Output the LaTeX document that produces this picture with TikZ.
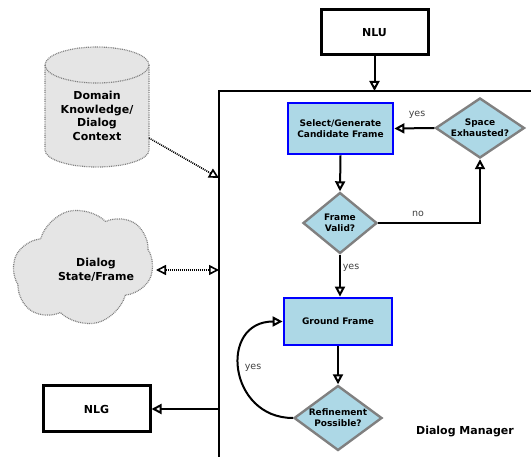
\documentclass[tikz,border=0pt]{standalone}
\usepackage{fontspec}
\setmainfont{DejaVu Sans}
\usetikzlibrary{shapes.geometric,shapes.symbols,arrows.meta}

\definecolor{procfill}{HTML}{ADD8E6}
\definecolor{storefill}{HTML}{E5E5E5}
\definecolor{storeline}{HTML}{808080}
\definecolor{labelgray}{HTML}{404040}

\tikzset{
  iobox/.style={draw, line width=3pt, fill=white, inner sep=0pt,
    font=\fontsize{11}{13}\selectfont\bfseries},
  procbox/.style={draw=blue, line width=2.8pt, fill=procfill, inner sep=0pt, align=center,
    font=\fontsize{9}{11}\selectfont\bfseries},
  decision/.style={diamond, draw=storeline, line width=2.4pt, fill=procfill, inner sep=0pt},
  dtext/.style={align=center, inner sep=0pt, font=\fontsize{9}{11}\selectfont\bfseries},
  storetext/.style={align=center, inner sep=0pt, font=\fontsize{11}{13.7}\selectfont\bfseries},
  storeborder/.style={draw=storeline, line width=1.2pt, dash pattern=on 0.9pt off 0.9pt},
  flow/.style={line width=2pt, -{Triangle[open,length=10pt,width=10pt]}},
  dotflow/.style={line width=1.6pt, dash pattern=on 1pt off 1pt, -{Triangle[open,length=10pt,width=10pt]}},
  dotboth/.style={line width=1.6pt, dash pattern=on 1pt off 1pt,
    {Triangle[open,length=10pt,width=10pt]}-{Triangle[open,length=10pt,width=10pt]}},
  lbl/.style={inner sep=0pt, text=labelgray, font=\fontsize{9.5}{11}\selectfont},
}

\begin{document}
\begin{tikzpicture}[x=1pt,y=-1pt]
\useasboundingbox (0,0) rectangle (531,457);

% Dialog Manager frame (open towards the right and bottom)
\coordinate (dmtl) at (219,91);
\draw[line width=2pt] (dmtl |- 0,458) -- (dmtl) -- (532,91);
\node[inner sep=0pt, font=\fontsize{11}{13}\selectfont\bfseries] (dmlabel) at (465,432) {Dialog Manager};

% NLU / NLG
\node[iobox, minimum width=107pt, minimum height=45pt] (nlu) at (374.5,32.5) {NLU};
\node[iobox, minimum width=107pt, minimum height=46pt] (nlg) at (96.5,409) {NLG};
\draw[flow] (nlu.south) -- (nlu.south |- dmtl);
\coordinate (nlgsrc) at (219,409);
\draw[flow] (nlgsrc) -- (nlg.east);

% Knowledge store (cylinder)
\path[fill=storefill] (45,65) -- (45,150) arc[start angle=180, end angle=0, x radius=52, y radius=17]
  -- (149,65) arc[start angle=0, end angle=-180, x radius=52, y radius=18] -- cycle;
\draw[storeborder] (45,65) -- (45,150) arc[start angle=180, end angle=0, x radius=52, y radius=17]
  -- (149,65);
\draw[storeborder] (97,65) ellipse[x radius=52, y radius=18];
\node[storetext] (dk) at (97,116) {Domain\\Knowledge/\\Dialog\\Context};
\coordinate (dkout) at (149,138);
\coordinate (dkin) at (219,178);
\draw[dotflow] (dkout) -- (dkin);

% Dialog state (cloud)
\node[cloud, cloud puffs=6, cloud puff arc=120, aspect=1.25, minimum width=142pt, minimum height=115pt,
  fill=storefill, storeborder, rotate=15] (ds) at (83,267) {};
\node[storetext, font=\fontsize{11}{14}\selectfont\bfseries] (dst) at (96,270) {Dialog\\State/Frame};
\coordinate (dsout) at (156,270);
\coordinate (dsin) at (219,270);
\draw[dotboth] (dsout) -- (dsin);

% Frame selection loop
\node[procbox, minimum width=105pt, minimum height=51pt] (sel) at (340.5,128.5) {Select/Generate\\Candidate Frame};
\node[decision, minimum width=89pt, minimum height=60pt] (se) at (480,128) {};
\node[dtext] (set) at (se) {Space\\Exhausted?};
\node[decision, minimum width=74pt, minimum height=61pt] (fv) at (340,223) {};
\node[dtext] (fvt) at (fv) {Frame\\Valid?};
\node[procbox, minimum width=108pt, minimum height=47pt] (gf) at (338,321.5) {Ground Frame};
\node[decision, minimum width=88pt, minimum height=65pt] (rp) at (338,418) {};
\node[dtext] (rpt) at (rp) {Refinement\\Possible?};

\draw[flow] (se.west) -- (sel.east);
\node[lbl] (lyes1) at (417,115) {yes};
\draw[flow] (sel.south) -- (fv.north);
\draw[flow] (fv.east) -| (se.south);
\node[lbl] (lno) at (418,214) {no};
\draw[flow] (fv.south) -- (fv.south |- gf.north);
\node[lbl] (lyes2) at (351,268) {yes};
\draw[flow] (gf.south) -- (rp.north);
\draw[flow] (rp.west) to[out=180, in=180, looseness=1.7] (gf.west);
\node[lbl] (lyes3) at (253,368) {yes};
\end{tikzpicture}
\end{document}
